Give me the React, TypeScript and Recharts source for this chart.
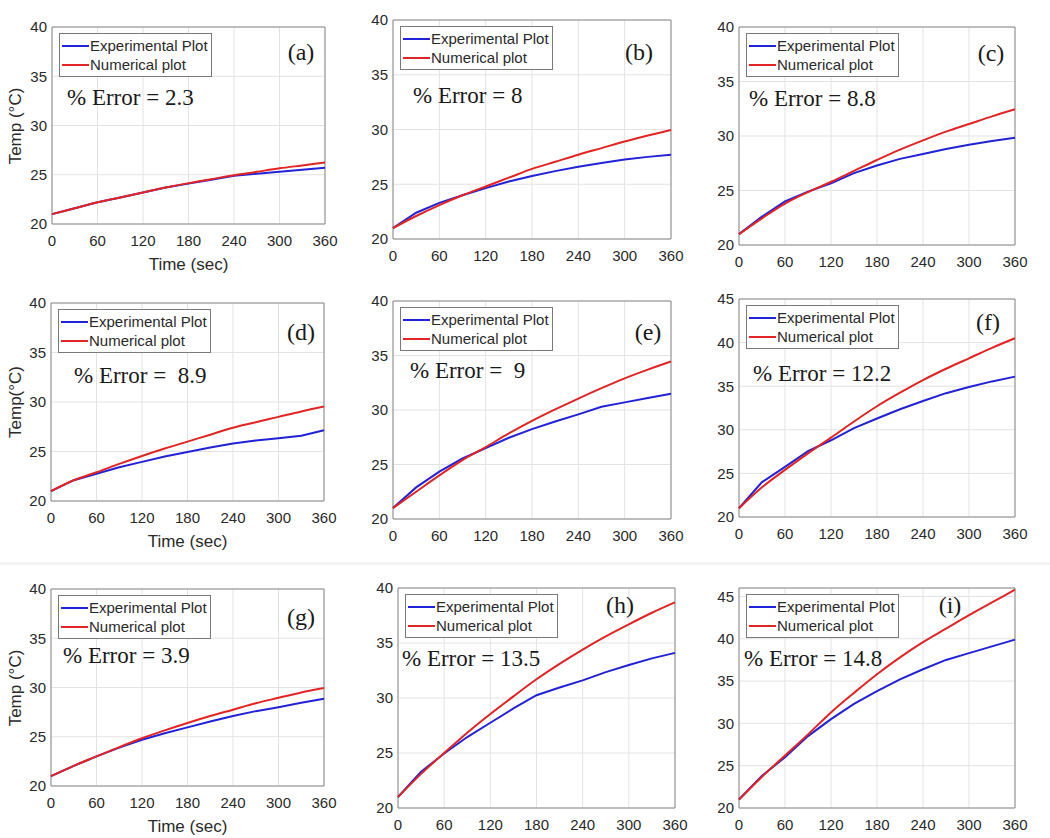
import React from 'react';
import { LineChart, Line, XAxis, YAxis, CartesianGrid, ReferenceArea, Legend } from 'recharts';

const timeSec = [0, 30, 60, 90, 120, 150, 180, 210, 240, 270, 300, 330, 360];
const xTicks = [0, 60, 120, 180, 240, 300, 360];
const yTicks40 = [20, 25, 30, 35, 40];
const yTicks45 = [20, 25, 30, 35, 40, 45];

const seriesNames = ['Experimental Plot', 'Numerical plot'];
const panelLetters = ['(a)', '(b)', '(c)', '(d)', '(e)', '(f)', '(g)', '(h)', '(i)'];
const errorTexts = [
  '% Error = 2.3',
  '% Error = 8',
  '% Error = 8.8',
  '% Error =  8.9',
  '% Error =  9',
  '% Error = 12.2',
  '% Error = 3.9',
  '% Error = 13.5',
  '% Error = 14.8',
];
const xTitle = 'Time (sec)';
const yTitles = ['Temp (°C)', '', '', 'Temp(°C)', '', '', 'Temp (°C)', '', ''];

const expA = [21.0, 21.6, 22.2, 22.7, 23.2, 23.7, 24.1, 24.5, 24.9, 25.1, 25.3, 25.5, 25.7];
const numA = [21.0, 21.6, 22.2, 22.7, 23.2, 23.7, 24.15, 24.55, 24.95, 25.3, 25.65, 25.95, 26.25];
const expB = [21.0, 22.4, 23.3, 24.0, 24.65, 25.25, 25.75, 26.2, 26.6, 26.95, 27.25, 27.5, 27.7];
const numB = [21.0, 22.1, 23.1, 24.0, 24.8, 25.6, 26.4, 27.05, 27.7, 28.3, 28.9, 29.45, 29.95];
const expC = [21.0, 22.6, 24.0, 24.9, 25.65, 26.6, 27.3, 27.9, 28.35, 28.8, 29.2, 29.55, 29.85];
const numC = [21.0, 22.45, 23.8, 24.85, 25.8, 26.8, 27.8, 28.75, 29.6, 30.4, 31.1, 31.8, 32.45];
const expD = [21.0, 22.1, 22.75, 23.4, 23.95, 24.5, 24.95, 25.4, 25.8, 26.1, 26.35, 26.6, 27.15];
const numD = [21.0, 22.1, 22.9, 23.75, 24.55, 25.3, 26.0, 26.7, 27.4, 27.95, 28.5, 29.05, 29.55];
const expE = [21.0, 22.9, 24.35, 25.55, 26.5, 27.45, 28.25, 28.95, 29.6, 30.3, 30.7, 31.1, 31.5];
const numE = [21.0, 22.5, 24.0, 25.4, 26.6, 27.85, 29.0, 30.05, 31.05, 32.0, 32.9, 33.7, 34.45];
const expF = [21.0, 24.0, 25.75, 27.55, 28.8, 30.2, 31.3, 32.35, 33.3, 34.2, 34.9, 35.55, 36.1];
const numF = [21.0, 23.4, 25.4, 27.3, 29.1, 30.95, 32.7, 34.25, 35.7, 37.0, 38.2, 39.4, 40.5];
const expG = [21.0, 22.05, 23.0, 23.9, 24.7, 25.35, 25.95, 26.55, 27.1, 27.6, 28.0, 28.45, 28.85];
const numG = [21.0, 22.05, 23.0, 23.95, 24.85, 25.65, 26.4, 27.1, 27.75, 28.4, 28.95, 29.5, 29.95];
const expH = [21.0, 23.3, 24.95, 26.45, 27.75, 29.05, 30.25, 30.95, 31.6, 32.35, 33.0, 33.6, 34.1];
const numH = [21.0, 23.1, 25.0, 26.85, 28.55, 30.15, 31.7, 33.1, 34.4, 35.6, 36.7, 37.75, 38.7];
const expI = [21.0, 23.8, 26.0, 28.5, 30.5, 32.3, 33.8, 35.2, 36.4, 37.5, 38.3, 39.1, 39.9];
const numI = [21.0, 23.7, 26.2, 28.7, 31.3, 33.6, 35.8, 37.8, 39.6, 41.2, 42.8, 44.3, 45.8];

const expSeries = [expA, expB, expC, expD, expE, expF, expG, expH, expI];
const numSeries = [numA, numB, numC, numD, numE, numF, numG, numH, numI];

// layout: plot box (page px), y max, letter center, error-text left/center
const layouts = [
  { L: 52, R: 325, T: 27, B: 224, yMax: 40, lx: 301, ly: 52, ex: 67, ey: 97, xt: true },
  { L: 393, R: 671, T: 20, B: 239, yMax: 40, lx: 639, ly: 52, ex: 413, ey: 95, xt: false },
  { L: 739, R: 1015, T: 27, B: 245, yMax: 40, lx: 991, ly: 53, ex: 749, ey: 98, xt: false },
  { L: 51, R: 324, T: 303, B: 501, yMax: 40, lx: 301, ly: 332, ex: 74, ey: 375, xt: true },
  { L: 393, R: 671, T: 301, B: 519, yMax: 40, lx: 648, ly: 332, ex: 410, ey: 370, xt: false },
  { L: 739, R: 1015, T: 299, B: 517, yMax: 45, lx: 988, ly: 322, ex: 753, ey: 373, xt: false },
  { L: 51, R: 324, T: 589, B: 786, yMax: 40, lx: 301, ly: 617, ex: 63, ey: 655, xt: true },
  { L: 398, R: 675, T: 588, B: 808, yMax: 40, lx: 620, ly: 605, ex: 402, ey: 658, xt: false },
  { L: 739, R: 1015, T: 588, B: 808, yMax: 46, lx: 950, ly: 605, ex: 744, ey: 658, xt: false },
];

const SANS = "'Liberation Sans', Arial, Helvetica, sans-serif";
const SERIF = "'Liberation Serif', 'Times New Roman', Times, serif";
const BLUE = '#2222d8';
const RED = '#e22424';
const TEXT = '#2a2a2a';

const LegendBox = (props: any) => {
  const payload = props.payload || [];
  return (
    <div
      style={{
        border: '1px solid #7a7a7a',
        background: '#fff',
        boxSizing: 'border-box',
        width: 153,
        padding: '2px 0 2px 0',
      }}
    >
      {payload.map((p: any) => (
        <div key={p.value} style={{ display: 'flex', alignItems: 'center', height: 19 }}>
          <span style={{ display: 'inline-block', width: 27, height: 2, background: p.color, marginLeft: 2, marginRight: 1 }} />
          <span style={{ fontFamily: SANS, fontSize: 15, color: TEXT, whiteSpace: 'nowrap', lineHeight: '19px' }}>{p.value}</span>
        </div>
      ))}
    </div>
  );
};

const Panel = ({ idx }: { idx: number }) => {
  const cfg = layouts[idx];
  const exp = expSeries[idx];
  const num = numSeries[idx];
  const data = timeSec.map((t, i) => ({ t, exp: exp[i], num: num[i] }));
  const yAxisW = 50;
  const xAxisH = 30;
  const mTop = 10;
  const mRight = 30;
  const w = cfg.R - cfg.L + yAxisW + mRight;
  const h = cfg.B - cfg.T + mTop + xAxisH;
  const yTicks = cfg.yMax >= 45 ? yTicks45 : yTicks40;
  const tickStyle = { fill: TEXT, fontSize: 15, fontFamily: SANS };
  return (
    <>
      <div style={{ position: 'absolute', left: cfg.L - yAxisW, top: cfg.T - mTop }}>
        <LineChart width={w} height={h} data={data} margin={{ top: mTop, right: mRight, left: 0, bottom: 0 }} style={{ overflow: 'visible' }}>
          <CartesianGrid stroke="#e3e3e3" strokeWidth={1} />
          <XAxis
            dataKey="t"
            type="number"
            domain={[0, 360]}
            ticks={xTicks}
            height={xAxisH}
            tickSize={0}
            tickMargin={11}
            axisLine={false}
            tickLine={false}
            tick={tickStyle}
            interval={0}
          />
          <YAxis
            type="number"
            domain={[20, cfg.yMax]}
            ticks={yTicks}
            width={yAxisW}
            tickSize={0}
            tickMargin={5}
            axisLine={false}
            tickLine={false}
            tick={tickStyle}
            interval={0}
            allowDataOverflow
          />
          <ReferenceArea x1={0} x2={360} y1={20} y2={cfg.yMax} fill="none" stroke="#8a8a8a" strokeWidth={1} />
          <Legend
            layout="horizontal"
            verticalAlign="middle"
            align="center"
            content={<LegendBox />}
            wrapperStyle={{ left: yAxisW + 7, top: mTop + 6, width: 153, height: 'auto' }}
          />
          <Line
            dataKey="exp"
            name={seriesNames[0]}
            type="linear"
            stroke={BLUE}
            strokeWidth={2}
            dot={false}
            isAnimationActive={false}
          />
          <Line
            dataKey="num"
            name={seriesNames[1]}
            type="monotone"
            stroke={RED}
            strokeWidth={2}
            dot={false}
            isAnimationActive={false}
          />
        </LineChart>
      </div>
      <div
        style={{
          position: 'absolute',
          left: cfg.lx,
          top: cfg.ly,
          transform: 'translate(-50%, -50%)',
          fontFamily: SERIF,
          fontSize: 24,
          color: '#1a1a1a',
          whiteSpace: 'nowrap',
          lineHeight: 1,
        }}
      >
        {panelLetters[idx]}
      </div>
      <div
        style={{
          position: 'absolute',
          left: cfg.ex,
          top: cfg.ey,
          transform: 'translate(0, -50%)',
          fontFamily: SERIF,
          fontSize: 23,
          color: '#1a1a1a',
          whiteSpace: 'pre',
          lineHeight: 1,
        }}
      >
        {errorTexts[idx]}
      </div>
      {cfg.xt && (
        <div
          style={{
            position: 'absolute',
            left: (cfg.L + cfg.R) / 2,
            top: cfg.B + 40,
            transform: 'translate(-50%, -50%)',
            fontFamily: SANS,
            fontSize: 17,
            color: TEXT,
            whiteSpace: 'nowrap',
            lineHeight: 1,
          }}
        >
          {xTitle}
        </div>
      )}
      {yTitles[idx] && (
        <div
          style={{
            position: 'absolute',
            left: 15,
            top: (cfg.T + cfg.B) / 2,
            transform: 'translate(-50%, -50%) rotate(-90deg)',
            fontFamily: SANS,
            fontSize: 17,
            color: TEXT,
            whiteSpace: 'nowrap',
            lineHeight: 1,
          }}
        >
          {yTitles[idx]}
        </div>
      )}
    </>
  );
};

export default function App() {
  return (
    <div
      style={{
        position: 'absolute',
        left: 0,
        top: 0,
        width: 1050,
        height: 838,
        background: '#ffffff',
        overflow: 'hidden',
      }}
    >
      <div style={{ position: 'absolute', left: 0, top: 562, width: 1050, height: 3, background: '#f3f3f3' }} />
      {layouts.map((_, i) => (
        <Panel key={i} idx={i} />
      ))}
    </div>
  );
}
